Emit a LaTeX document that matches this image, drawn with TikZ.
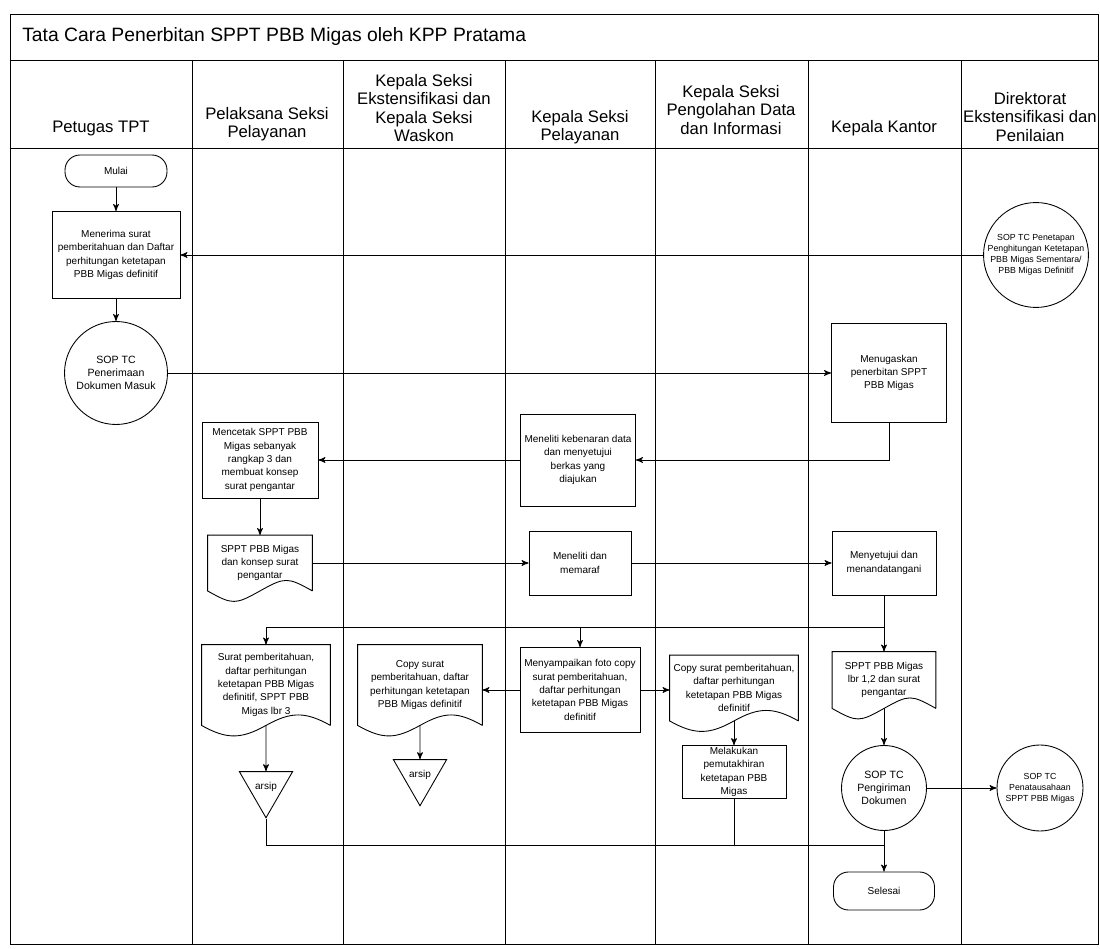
\documentclass[tikz,border=0pt]{standalone}
\usepackage{fontspec}
\setmainfont{Liberation Sans}
\usetikzlibrary{arrows}
\usetikzlibrary{shapes.geometric}

\begin{document}
\begin{tikzpicture}[->,>=stealth',x=0.02cm,y=-0.02cm,line width=0.5pt,
    box text/.style={font=\fontsize{5.7}{7.6}\selectfont,align=center},
    proc node/.style={box text,draw,rectangle,inner sep=1pt},
    doc node/.style={box text,rectangle,inner sep=1pt},
    term node/.style={box text,draw,rounded corners=0.3cm},
    sop node/.style={draw,circle,inner sep=0pt,align=center,font=\fontsize{6}{7.4}\selectfont},
    small sop/.style={sop node,font=\fontsize{5}{6.3}\selectfont},
    arsip node/.style={draw,regular polygon,regular polygon sides=3,shape border rotate=180,
                       inner sep=0pt,minimum size=1.23cm,font=\fontsize{5.7}{7}\selectfont},
    lane head/.style={align=center,font=\fontsize{9.5}{10.5}\selectfont}]

  % frame and lanes
  \useasboundingbox (0,0) rectangle (1100,949);
  \draw[-] (10,14) rectangle (1098,944);
  \draw[-] (10,60) -- (1098,60);
  \draw[-] (10,148) -- (1098,148);
  \foreach \x in {192,343,505,655,808,961}
    \draw[-] (\x,60) -- (\x,944);

  \node[anchor=west,font=\fontsize{11}{13}\selectfont] (judul) at (16,37)
    {Tata Cara Penerbitan SPPT PBB Migas oleh KPP Pratama};

  \node[lane head] (h1) at (101,128) {Petugas TPT};
  \node[lane head] (h2) at (267,124) {Pelaksana Seksi\\Pelayanan};
  \node[lane head] (h3) at (424,108) {Kepala Seksi\\Ekstensifikasi dan\\Kepala Seksi\\Waskon};
  \node[lane head] (h4) at (580,127) {Kepala Seksi\\Pelayanan};
  \node[lane head] (h5) at (731,110) {Kepala Seksi\\Pengolahan Data\\dan Informasi};
  \node[lane head] (h6) at (884,128) {Kepala Kantor};
  \node[lane head] (h7) at (1030,117) {Direktorat\\Ekstensifikasi dan\\Penilaian};

  % steps
  \node[term node,minimum width=2.04cm,minimum height=0.64cm] (mulai) at (116,171) {Mulai};
  \node[proc node,minimum width=2.56cm,minimum height=1.74cm] (terima) at (116,255)
    {Menerima surat\\pemberitahuan dan Daftar\\perhitungan ketetapan\\PBB Migas definitif};
  \node[sop node,minimum size=2.06cm] (sopterima) at (116,373)
    {SOP TC\\Penerimaan\\Dokumen Masuk};
  \node[small sop,minimum size=2.06cm] (sopdir) at (1036,255)
    {SOP TC Penetapan\\Penghitungan Ketetapan\\PBB Migas Sementara/\\PBB Migas Definitif};
  \node[proc node,minimum width=2.3cm,minimum height=1.98cm] (tugas) at (889,373)
    {Menugaskan\\penerbitan SPPT\\PBB Migas};
  \node[proc node,minimum width=2.32cm,minimum height=1.52cm] (cetak) at (260,460)
    {Mencetak SPPT PBB\\Migas sebanyak\\rangkap 3 dan\\membuat konsep\\surat pengantar};
  \node[proc node,minimum width=2.3cm,minimum height=1.84cm] (teliti) at (578,460)
    {Meneliti kebenaran data\\dan menyetujui\\berkas yang\\diajukan};
  \node[doc node,minimum width=2.08cm,minimum height=1.1cm] (sppt) at (260,563)
    {SPPT PBB Migas\\dan konsep surat\\pengantar};
  \node[proc node,minimum width=2.04cm,minimum height=1.28cm] (paraf) at (580,563)
    {Meneliti dan\\memaraf};
  \node[proc node,minimum width=2.08cm,minimum height=1.28cm] (setuju) at (884,563)
    {Menyetujui dan\\menandatangani};
  \node[doc node,minimum width=2.56cm,minimum height=1.6cm] (surat) at (266,685)
    {Surat pemberitahuan,\\daftar perhitungan\\ketetapan PBB Migas\\definitif, SPPT PBB\\Migas lbr 3};
  \node[doc node,minimum width=2.48cm,minimum height=1.6cm] (copyeks) at (420,685)
    {Copy surat\\pemberitahuan, daftar\\perhitungan ketetapan\\PBB Migas definitif};
  \node[proc node,minimum width=2.4cm,minimum height=1.7cm] (sampai) at (580,690)
    {Menyampaikan foto copy\\surat pemberitahuan,\\daftar perhitungan\\ketetapan PBB Migas\\definitif};
  \node[doc node,minimum width=2.56cm,minimum height=1.3cm] (copypdi) at (734,688)
    {Copy surat pemberitahuan,\\daftar perhitungan\\ketetapan PBB Migas\\definitif};
  \node[doc node,minimum width=2.06cm,minimum height=1.12cm] (spptlbr) at (884,680)
    {SPPT PBB Migas\\lbr 1,2 dan surat\\pengantar};
  \node[proc node,minimum width=2.08cm,minimum height=1.0cm] (mutakhir) at (734,772)
    {Melakukan\\pemutakhiran\\ketetapan PBB\\Migas};
  \node[arsip node] (arsip1) at (266,787) {arsip};
  \node[arsip node] (arsip2) at (420,775) {arsip};
  \node[sop node,minimum size=1.7cm] (kirim) at (884,788) {SOP TC\\Pengiriman\\Dokumen};
  \node[small sop,minimum size=1.72cm] (tatausaha) at (1040,788)
    {SOP TC\\Penatausahaan\\SPPT PBB Migas};
  \node[term node,minimum width=2.02cm,minimum height=0.76cm] (selesai) at (884,891) {Selesai};

  % document outlines
  \foreach \n in {sppt,surat,copyeks,copypdi,spptlbr}
    \draw[-] (\n.south east) -- (\n.north east) -- (\n.north west) -- (\n.south west)
      .. controls +(0.5cm,-0.28cm) and +(-0.5cm,-0.28cm) .. (\n.south)
      .. controls +(0.5cm,0.28cm) and +(-0.5cm,0.28cm) .. (\n.south east);

  \path
    (mulai) edge (terima)
    (terima) edge (sopterima)
    (sopdir) edge (terima)
    (sopterima) edge (tugas)
    (teliti) edge (cetak)
    (cetak) edge (sppt)
    (sppt) edge (paraf)
    (paraf) edge (setuju)
    (setuju) edge (spptlbr)
    (copypdi) edge (mutakhir)
    (surat) edge (arsip1)
    (copyeks) edge (arsip2)
    (spptlbr) edge (kirim)
    (kirim) edge (tatausaha)
    (kirim) edge (selesai);

  \draw (tugas.south) |- (teliti.east);
  \coordinate (cabang) at (884,627);
  \draw (cabang) -| (surat.north);
  \draw (cabang -| sampai.north) -- (sampai.north);
  \draw (sampai.west) -- (sampai.west -| copyeks.east);
  \draw (sampai.east) -- (sampai.east -| copypdi.west);
  \coordinate (gabung) at (884,845);
  \draw[-] (arsip1.south) |- (gabung);
  \draw[-] (mutakhir.south) -- (mutakhir.south |- gabung);
\end{tikzpicture}
\end{document}
